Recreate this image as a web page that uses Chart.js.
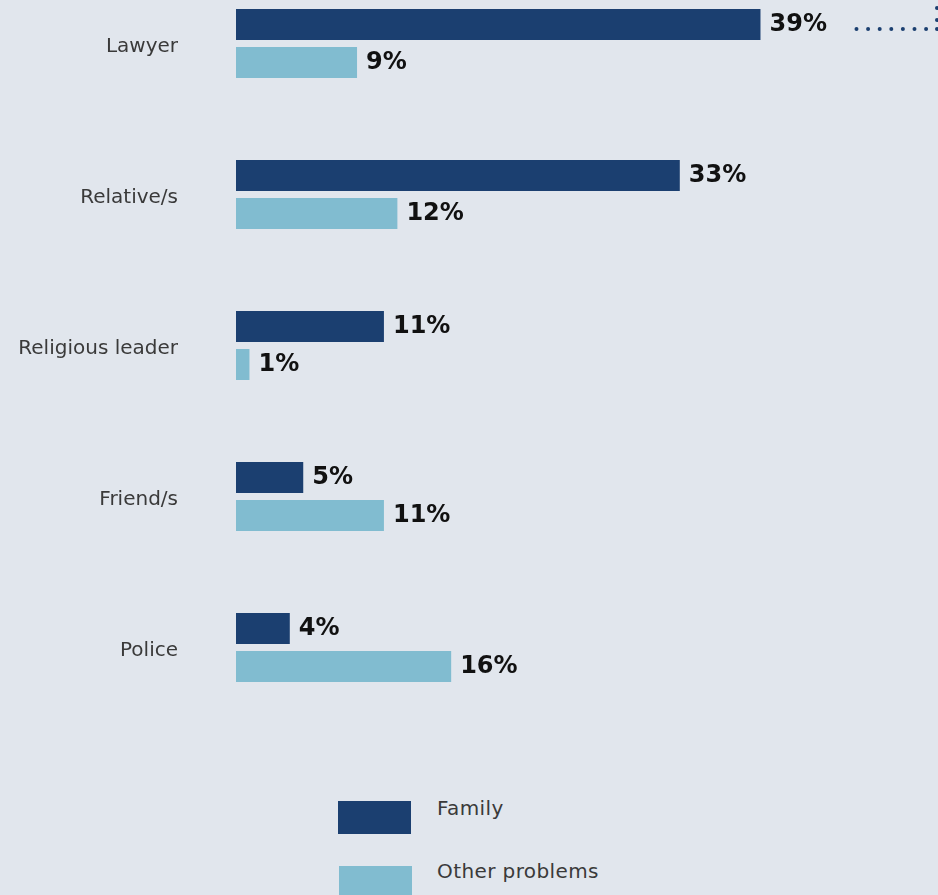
<!DOCTYPE html>
<html>
<head>
<meta charset="utf-8">
<script src="https://cdn.jsdelivr.net/npm/chart.js@4.4.0/dist/chart.umd.min.js"></script>
<style>
  html, body { margin: 0; padding: 0; background: #e1e6ed; overflow: hidden; }
  #wrap { position: relative; width: 938px; height: 895px; }
  #chart { position: absolute; left: 0; top: -32px; }
  .leg { position: absolute; font-family: "DejaVu Sans", sans-serif; font-size: 20px; letter-spacing: 0.4px; color: #3a3a3a; }
  .sw { position: absolute; width: 73px; height: 33px; }
</style>
</head>
<body>
<div id="wrap">
  <canvas id="chart" width="938" height="755"></canvas>
  <div class="sw" style="left:338px; top:801px; background:#1b3f70;"></div>
  <div class="leg" style="left:437px; top:796px;">Family</div>
  <div class="sw" style="left:339px; top:866px; background:#81bcd0;"></div>
  <div class="leg" style="left:437px; top:859px;">Other problems</div>
</div>
<script>
const categories = ["Lawyer", "Relative/s", "Religious leader", "Friend/s", "Police"];
const familyValues = [39, 33, 11, 5, 4];
const otherValues = [9, 12, 1, 11, 16];
const seriesNames = ["Family", "Other problems"];

const valueLabels = {
  id: "valueLabels",
  afterDatasetsDraw(chart) {
    const ctx = chart.ctx;
    ctx.save();
    ctx.font = "bold 24px 'DejaVu Sans', sans-serif";
    ctx.fillStyle = "#111";
    ctx.textAlign = "left";
    ctx.textBaseline = "middle";
    chart.data.datasets.forEach((ds, i) => {
      chart.getDatasetMeta(i).data.forEach((bar, j) => {
        ctx.fillText(ds.data[j] + "%", bar.x + 9, bar.y);
      });
    });
    ctx.restore();
  }
};

// dotted connector that leaves the picture at the top right
const dotted = {
  id: "dotted",
  afterDraw(chart) {
    const ctx = chart.ctx;
    const bar = chart.getDatasetMeta(0).data[0];
    const y = bar.y + 4.5;
    const right = chart.width - 1;
    ctx.save();
    ctx.fillStyle = "#1b3f70";
    for (let x = bar.x + 96; x <= right + 1; x += 11.6) {
      ctx.beginPath();
      ctx.arc(Math.min(x, right), y, 2, 0, Math.PI * 2);
      ctx.fill();
    }
    for (let yy = y - 9; yy > -5; yy -= 12) {
      ctx.beginPath();
      ctx.arc(right, yy, 2, 0, Math.PI * 2);
      ctx.fill();
    }
    ctx.restore();
  }
};

new Chart(document.getElementById("chart"), {
  type: "bar",
  data: {
    labels: categories,
    datasets: [
      {
        label: seriesNames[0],
        data: familyValues,
        backgroundColor: "#1b3f70",
        categoryPercentage: 0.503,
        barPercentage: 0.816,
      },
      {
        label: seriesNames[1],
        data: otherValues,
        backgroundColor: "#81bcd0",
        categoryPercentage: 0.503,
        barPercentage: 0.816,
      },
    ],
  },
  options: {
    indexAxis: "y",
    responsive: false,
    animation: false,
    layout: { padding: 0 },
    plugins: {
      legend: { display: false },
      tooltip: { enabled: false },
    },
    scales: {
      x: {
        display: false,
        min: 0,
        max: 52.2,
      },
      y: {
        grid: { display: false },
        border: { display: false },
        ticks: {
          padding: 50,
          labelOffset: 3,
          color: "#3a3a3a",
          font: { family: "'DejaVu Sans', sans-serif", size: 20 },
        },
        afterFit(scale) {
          scale.width = 236;
          scale.paddingTop = 0;
          scale.paddingBottom = 0;
        },
      },
    },
  },
  plugins: [valueLabels, dotted],
});
</script>
</body>
</html>
